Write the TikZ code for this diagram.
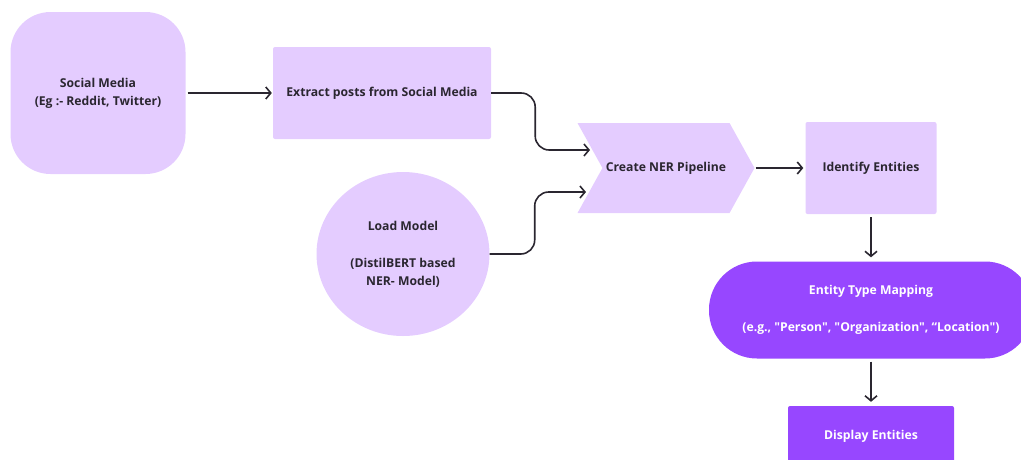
\documentclass[tikz,border=0pt]{standalone}
\usepackage{fontspec}
\setmainfont{Open Sans}[Ligatures=TeXOff]
\usetikzlibrary{arrows.meta,shapes.symbols,shapes.geometric,positioning}
\definecolor{lilac}{HTML}{E4CCFF}
\definecolor{flowPurple}{HTML}{9747FF}
\definecolor{inkdark}{HTML}{2A2630}

\begin{document}
\begin{tikzpicture}[x=1pt,y=-1pt,
  box/.style={fill=lilac,text=inkdark,font=\bfseries\fontsize{12.2}{18}\selectfont,align=center,inner sep=0pt},
  dark/.style={fill=flowPurple,text=white,font=\bfseries\fontsize{12.2}{18}\selectfont,align=center,inner sep=0pt},
  arr/.style={-{Straight Barb[length=5pt,width=12pt]},line width=1.6pt,draw=inkdark}]
  \useasboundingbox (0,0) rectangle (1021,459);
  \clip (0,0) rectangle (1021,459);
  \node[box,rounded corners=40pt,minimum width=175pt,minimum height=162pt] (social) at (98,93) {Social Media\\(Eg :- Reddit, Twitter)};
  \node[box,rounded corners=2pt,minimum width=218pt,minimum height=92pt] (extract) at (382,93) {Extract posts from Social Media};
  \node[box,ellipse,minimum width=173pt,minimum height=164pt] (load) at (403,254) {Load Model\\[19pt](DistilBERT based\\NER- Model)};
  \node[box,signal,signal to=east,signal from=west,signal pointer angle=122,minimum width=177pt,minimum height=90pt] (pipe) at (666,168) {Create NER Pipeline};
  \node[box,rounded corners=2pt,minimum width=131pt,minimum height=92pt] (ident) at (871,168) {Identify Entities};
  \node[dark,rounded corners=48pt,minimum width=324pt,minimum height=97pt] (map) at (871,310) {Entity Type Mapping\\[19pt](e.g., "Person", "Organization", “Location")};
  \node[dark,rounded corners=2pt,minimum width=166pt,minimum height=60pt] (disp) at (871,436) {Display Entities};
  \coordinate (in1) at (590,150);
  \coordinate (in2) at (586,192);
  \draw[arr,shorten <=2pt,shorten >=1pt] (social) -- (extract);
  \draw[arr,rounded corners=14pt] (extract.east) -- ++(44,0) |- (in1);
  \draw[arr,rounded corners=14pt] (load.east) -- ++(45,0) |- (in2);
  \draw[arr,shorten <=1pt,shorten >=2pt] (pipe.east) -- (ident);
  \draw[arr,shorten <=3pt,shorten >=4pt] (ident) -- (map);
  \draw[arr,shorten <=3pt,shorten >=4pt] (map) -- (disp);
\end{tikzpicture}
\end{document}
